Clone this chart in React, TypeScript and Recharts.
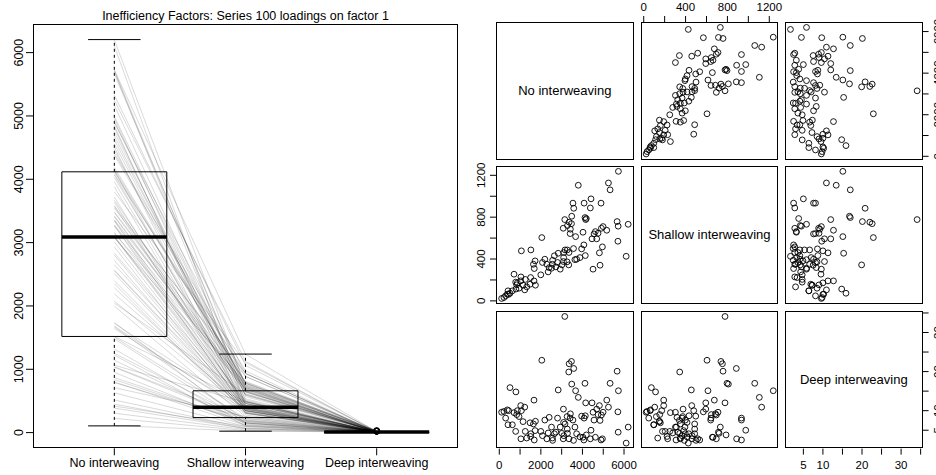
import React from 'react';
import {
  ComposedChart,
  Line,
  Scatter,
  ScatterChart,
  XAxis,
  YAxis,
  ReferenceArea,
  ReferenceLine,
} from 'recharts';

const FONT = '"Liberation Sans", Arial, Helvetica, sans-serif';

const title = 'Inefficiency Factors: Series 100 loadings on factor 1';
const categories = ['No interweaving', 'Shallow interweaving', 'Deep interweaving'];

// one entry per series, same order in all three arrays
const noInterweaving = [
  113, 225, 306, 386, 419, 450, 515, 628, 709, 789,
  800, 837, 869, 950, 1031, 1040, 1063, 1143, 1224, 1250,
  1320, 1481, 1508, 1520, 1643, 1670, 1682, 1723, 1739, 1997,
  2045, 2077, 2190, 2287, 2351, 2399, 2512, 2555, 2566, 2650,
  2721, 2802, 2834, 2931, 3011, 3076, 3085, 3095, 3104, 3150,
  3162, 3262, 3271, 3280, 3341, 3352, 3360, 3408, 3420, 3472,
  3485, 3543, 3570, 3581, 3639, 3671, 3720, 3800, 3881, 3961,
  4026, 4068, 4080, 4122, 4138, 4155, 4187, 4380, 4412, 4461,
  4509, 4557, 4622, 4686, 4750, 4815, 4847, 4895, 4911, 4960,
  4992, 5169, 5250, 5330, 5668, 5705, 5718, 5730, 6103, 6200,
];
const shallowInterweaving = [
  23, 32, 48, 64, 96, 62, 73, 96, 255, 179,
  113, 153, 172, 121, 191, 229, 478, 150, 105, 205,
  134, 159, 223, 487, 350, 191, 309, 382, 150, 249,
  605, 367, 398, 350, 277, 318, 312, 350, 388, 431,
  325, 367, 455, 303, 344, 694, 376, 414, 462, 777,
  487, 373, 487, 720, 344, 462, 752, 643, 685, 738,
  809, 934, 500, 885, 394, 614, 398, 1105, 414, 497,
  656, 535, 934, 796, 433, 777, 787, 888, 975, 593,
  303, 640, 662, 593, 646, 459, 341, 934, 694, 516,
  710, 675, 1127, 1061, 758, 570, 714, 1238, 426, 732,
];
const deepInterweaving = [
  9.6, 9.8, 8.1, 10.2, 6.4, 10.0, 15.9, 6.4, 9.5, 4.7,
  14.8, 9.0, 10.0, 8.5, 11.3, 2.8, 10.0, 7.2, 10.9, 4.7,
  3.0, 6.9, 3.4, 4.1, 6.6, 12.7, 2.5, 4.9, 7.3, 4.7,
  22.9, 3.6, 7.6, 2.8, 4.3, 8.3, 5.8, 3.0, 2.4, 4.1,
  4.5, 8.1, 15.3, 5.8, 4.2, 2.8, 10.4, 7.0, 3.6, 34.1,
  6.6, 8.5, 5.3, 4.2, 19.9, 2.8, 22.0, 8.1, 9.2, 22.6,
  16.8, 7.6, 2.4, 20.8, 5.8, 15.1, 4.1, 13.4, 3.3, 8.6,
  3.2, 2.5, 8.1, 17.0, 8.7, 12.0, 3.8, 2.8, 5.0, 12.0,
  9.6, 7.6, 3.2, 10.4, 9.0, 11.3, 7.5, 2.5, 8.9, 2.8,
  9.6, 12.7, 10.9, 17.0, 20.1, 9.7, 4.5, 15.1, 1.7, 5.8,
];

// boxplot summaries (no, shallow, deep)
const boxLow = [106, 22, 1.7];
const boxQ1 = [1518, 237, 4.0];
const boxMedian = [3090, 402, 7.6];
const boxQ3 = [4118, 660, 10.2];
const boxHigh = [6206, 1240, 17.0];
const deepOutliers = [19.9, 20.1, 20.8, 22.0, 22.6, 22.9, 34.1];

const loadingTicks = [0, 1000, 2000, 3000, 4000, 5000, 6000];
const noTicks = [0, 1000, 2000, 3000, 4000, 5000, 6000];
const noLabels = [0, 2000, 4000, 6000];
const shallowTicks = [0, 200, 400, 600, 800, 1000, 1200];
const shallowLabels = [0, 400, 800, 1200];
const deepTicks = [5, 10, 15, 20, 25, 30, 35];
const deepLabels = [5, 10, 20, 30];

const series = noInterweaving.map((n, i) => [
  { x: 1, y: n },
  { x: 2, y: shallowInterweaving[i] },
  { x: 3, y: deepInterweaving[i] },
]);

const LoadingTick = ({ x, y, payload }: any) => (
  <text
    x={x}
    y={y}
    transform={`rotate(-90 ${x} ${y})`}
    textAnchor='middle'
    dominantBaseline='central'
    fontSize={12.5}
    fontFamily={FONT}
    fill='#000'
  >
    {payload.value}
  </text>
);

const Ring = ({ cx, cy }: any) => (
  <circle cx={cx} cy={cy} r={2.9} fill='none' stroke='#000' strokeWidth={0.9} />
);

function LoadingsChart() {
  return (
    <div style={{ position: 'absolute', left: 0, top: 0 }}>
      <ComposedChart
        width={470}
        height={475}
        margin={{ top: 24, right: 12, bottom: 0, left: 1 }}
      >
        <XAxis
          type='number'
          dataKey='x'
          domain={[0.38, 3.62]}
          ticks={[1, 2, 3]}
          interval={0}
          tickFormatter={(v: number) => categories[v - 1]}
          height={26.7}
          axisLine={false}
          tickSize={7}
          tickMargin={3}
          stroke='#000'
          tick={{ fontSize: 12.5, fill: '#000', fontFamily: FONT }}
        />
        <YAxis
          type='number'
          domain={[-248, 6452]}
          ticks={loadingTicks}
          interval={0}
          width={32}
          axisLine={false}
          tickSize={7}
          tickMargin={6.5}
          stroke='#000'
          tick={<LoadingTick />}
        />
        {series.map((pts, i) => (
          <Line
            key={i}
            data={pts}
            dataKey='y'
            stroke='#000'
            strokeOpacity={0.19}
            strokeWidth={0.8}
            dot={false}
            activeDot={false}
            isAnimationActive={false}
          />
        ))}
        {categories.map((c, i) => {
          const x = i + 1;
          return (
            <React.Fragment key={c}>
              <ReferenceLine
                segment={[{ x, y: boxQ3[i] }, { x, y: boxHigh[i] }]}
                stroke='#000'
                strokeDasharray='3 3'
              />
              <ReferenceLine
                segment={[{ x, y: boxLow[i] }, { x, y: boxQ1[i] }]}
                stroke='#000'
                strokeDasharray='3 3'
              />
              <ReferenceLine
                segment={[{ x: x - 0.2, y: boxHigh[i] }, { x: x + 0.2, y: boxHigh[i] }]}
                stroke='#000'
              />
              <ReferenceLine
                segment={[{ x: x - 0.2, y: boxLow[i] }, { x: x + 0.2, y: boxLow[i] }]}
                stroke='#000'
              />
              <ReferenceArea
                x1={x - 0.4}
                x2={x + 0.4}
                y1={boxQ1[i]}
                y2={boxQ3[i]}
                fill='none'
                fillOpacity={0}
                stroke='#000'
                strokeWidth={1}
              />
              <ReferenceLine
                segment={[{ x: x - 0.4, y: boxMedian[i] }, { x: x + 0.4, y: boxMedian[i] }]}
                stroke='#000'
                strokeWidth={3.5}
              />
            </React.Fragment>
          );
        })}
        <Scatter
          data={deepOutliers.map((v) => ({ x: 3, y: v }))}
          dataKey='y'
          shape={<Ring />}
          isAnimationActive={false}
        />
      </ComposedChart>
      <div
        style={{
          position: 'absolute',
          left: 33,
          top: 24,
          width: 425,
          height: 424.3,
          border: '1px solid #000',
          boxSizing: 'border-box',
          pointerEvents: 'none',
        }}
      />
      <div
        style={{
          position: 'absolute',
          left: 33,
          top: 9,
          width: 425,
          textAlign: 'center',
          fontFamily: FONT,
          fontSize: 12.5,
          lineHeight: '15px',
          whiteSpace: 'nowrap',
        }}
      >
        {title}
      </div>
    </div>
  );
}

// scatterplot matrix
const PS = 137.6;
const PAD = 14;
const colX = [496, 640.7, 785];
const rowY = [22, 166, 310.7];
const variables = [
  { name: categories[0], data: noInterweaving, domain: [-158, 6460], ticks: noTicks, labels: noLabels },
  { name: categories[1], data: shallowInterweaving, domain: [-26, 1289], ticks: shallowTicks, labels: shallowLabels },
  { name: categories[2], data: deepInterweaving, domain: [0.3, 35.5], ticks: deepTicks, labels: deepLabels },
];

const pairTick = (rotated: boolean, labels: number[]) => (props: any) => {
  const { x, y, payload } = props;
  if (!labels.includes(payload.value)) return <g />;
  return (
    <text
      x={x}
      y={y}
      textAnchor='middle'
      dominantBaseline='central'
      fontSize={11.5}
      fontFamily={FONT}
      fill='#000'
      transform={rotated ? `rotate(-90 ${x} ${y})` : undefined}
    >
      {payload.value}
    </text>
  );
};

function PairCell({ row, col }: { row: number; col: number }) {
  const top = row === 0 && col === 1;
  const bottom = row === 2 && col !== 1;
  const left = col === 0 && row === 1;
  const right = col === 2 && row !== 1;
  const T = top ? 22 : 0;
  const B = bottom ? 26 : 0;
  const L = left ? 22 : 0;
  const R = right ? 16 : 0;
  const xv = variables[col];
  const yv = variables[row];
  const pts = row === col ? [] : xv.data.map((v, i) => ({ x: v, y: yv.data[i] }));
  const showChart = row !== col || top || bottom || left || right;

  return (
    <>
      {showChart && (
        <div
          style={{
            position: 'absolute',
            left: colX[col] - L - PAD,
            top: rowY[row] - T - PAD,
          }}
        >
          <ScatterChart
            width={PS + L + R + 2 * PAD}
            height={PS + T + B + 2 * PAD}
            margin={{ top: PAD, right: PAD, bottom: PAD, left: PAD }}
          >
            <XAxis
              type='number'
              dataKey='x'
              domain={xv.domain}
              ticks={xv.ticks}
              interval={0}
              allowDataOverflow
              hide={!top && !bottom}
              orientation={top ? 'top' : 'bottom'}
              height={top ? T : B}
              axisLine={false}
              tickSize={6}
              tickMargin={top ? 8.5 : 10}
              stroke='#000'
              tick={pairTick(false, xv.labels)}
            />
            <YAxis
              type='number'
              dataKey='y'
              domain={yv.domain}
              ticks={yv.ticks}
              interval={0}
              allowDataOverflow
              hide={!left && !right}
              orientation={left ? 'left' : 'right'}
              width={left ? L : R}
              axisLine={false}
              tickSize={6}
              tickMargin={9}
              stroke='#000'
              tick={pairTick(true, yv.labels)}
            />
            <Scatter data={pts} shape={<Ring />} isAnimationActive={false} />
          </ScatterChart>
        </div>
      )}
      <div
        style={{
          position: 'absolute',
          left: colX[col],
          top: rowY[row],
          width: PS,
          height: PS,
          border: '1px solid #000',
          boxSizing: 'border-box',
          pointerEvents: 'none',
          display: 'flex',
          alignItems: 'center',
          justifyContent: 'center',
          fontFamily: FONT,
          fontSize: 13,
          whiteSpace: 'nowrap',
        }}
      >
        {row === col ? xv.name : null}
      </div>
    </>
  );
}

export default function App() {
  const cells = [];
  for (let r = 0; r < 3; r++) {
    for (let c = 0; c < 3; c++) {
      cells.push(<PairCell key={`${r}-${c}`} row={r} col={c} />);
    }
  }
  return (
    <div
      style={{
        position: 'absolute',
        left: 0,
        top: 0,
        width: 936,
        height: 475,
        overflow: 'hidden',
        background: '#fff',
      }}
    >
      <LoadingsChart />
      {cells}
    </div>
  );
}
